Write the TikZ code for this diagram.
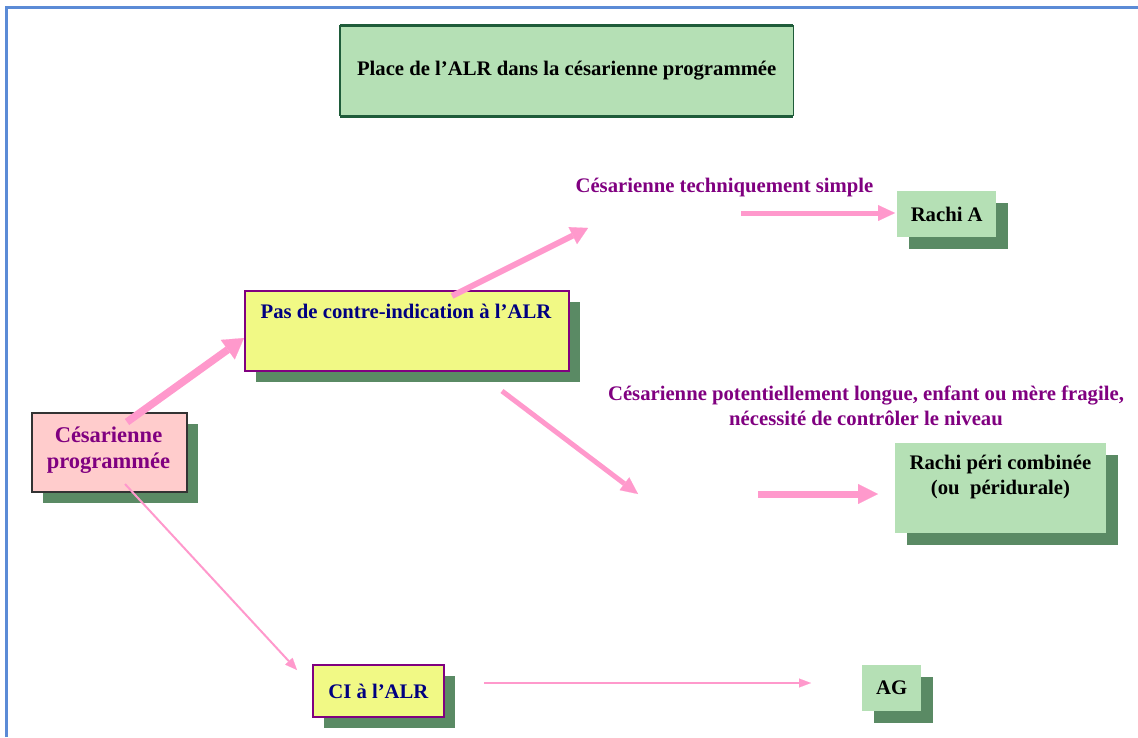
\documentclass[tikz,border=0pt]{standalone}
\usepackage{fontspec}
\setmainfont{Liberation Serif}
\usetikzlibrary{arrows.meta,shadows}
\definecolor{frameblue}{HTML}{5B8BD6}
\definecolor{boxgreen}{HTML}{B5E0B5}
\definecolor{shadowgreen}{HTML}{5A8A64}
\definecolor{titleborder}{HTML}{1F5C3A}
\definecolor{boxpink}{HTML}{FFCCCC}
\definecolor{boxyellow}{HTML}{F1F985}
\definecolor{txtpurple}{HTML}{800080}
\definecolor{txtnavy}{HTML}{000080}
\definecolor{arrowpink}{HTML}{FF99CC}
\definecolor{darkborder}{HTML}{333333}
\begin{document}
\begin{tikzpicture}[x=1pt,y=-1pt,
  shadowbox/.style={rectangle, inner sep=0pt, anchor=north west,
    drop shadow={shadow xshift=11.5pt,shadow yshift=-11.5pt,fill=shadowgreen,opacity=1}},
  greenbox/.style={shadowbox, fill=boxgreen},
  yellowbox/.style={shadowbox, fill=boxyellow, draw=txtpurple, line width=1.8pt},
  pinkbox/.style={shadowbox, fill=boxpink, draw=darkborder, line width=1.8pt},
  txt/.style={inner sep=0pt, align=center, font=\bfseries\fontsize{20.7}{25}\selectfont},
  parr/.style={draw=arrowpink, line width=#1},
]
\useasboundingbox (0,0) rectangle (1138,737);
% frame
\draw[frameblue, line width=3pt] (6.5,737) -- (6.5,7.5) -- (1138,7.5);

% title
\node[rectangle, anchor=north west, inner sep=0pt, minimum width=453pt, minimum height=91pt, fill=boxgreen] (title) at (340,25) {};
\draw[titleborder, line width=1.2pt] (title.north west) -- (title.south west) (title.north east) -- (title.south east);
\draw[titleborder, line width=3pt] (title.north west) -- (title.north east) (title.south west) -- (title.south east);
\node[txt, text=black] (titleT) at (title.center) {Place de l’ALR dans la césarienne programmée};

% boxes
\node[pinkbox, minimum width=155pt, minimum height=79pt] (ces) at (31,412) {};
\node[txt, text=txtpurple, font=\bfseries\fontsize{22.5}{26}\selectfont] (cesT) at (108.5,450) {Césarienne\\programmée};

\node[yellowbox, minimum width=324pt, minimum height=80pt] (pas) at (244,290) {};
\node[txt, text=txtnavy] (pasT) at (406,311) {Pas de contre-indication à l’ALR};

\node[yellowbox, minimum width=131pt, minimum height=52pt] (ci) at (312,664) {};
\node[txt, text=txtnavy] (ciT) at (ci.center) {CI à l’ALR};

\node[greenbox, minimum width=99pt, minimum height=46pt] (rachiA) at (897,191) {};
\node[txt, text=black] (rachiAT) at (rachiA.center) {Rachi A};

\node[greenbox, minimum width=211pt, minimum height=90pt] (rpc) at (895,443) {};
\node[txt, text=black] (rpcT) at (1000.5,477) {Rachi péri combinée\\(ou\ \ péridurale)};

\node[greenbox, minimum width=59pt, minimum height=46pt] (ag) at (862,665) {};
\node[txt, text=black] (agT) at (ag.center) {AG};

% labels
\node[txt, text=txtpurple] (lab1) at (724.5,188) {Césarienne techniquement simple};
\node[txt, text=txtpurple] (lab2) at (866,406) {Césarienne potentiellement longue, enfant ou mère fragile,\\nécessité de contrôler le niveau};

% coordinates for free ends
\coordinate (a1s) at (127,422);
\coordinate (a1e) at (244,338);
\coordinate (a2s) at (452,296);
\coordinate (a2e) at (588,228);
\coordinate (a3s) at (741,213);
\coordinate (a3e) at (895,213);
\coordinate (a4s) at (502,391);
\coordinate (a4e) at (638,494);
\coordinate (a5s) at (758,494);
\coordinate (a5e) at (878,494);
\coordinate (a6s) at (125,484);
\coordinate (a6e) at (297,670);
\coordinate (a7s) at (484,683);
\coordinate (a7e) at (811,683);

% arrows
\draw[parr=7.5pt, -{Triangle[length=20pt,width=24pt,line width=0.1pt]}] (a1s) -- (a1e);
\draw[parr=6pt, -{Triangle[length=17pt,width=19pt,line width=0.1pt]}] (a2s) -- (a2e);
\draw[parr=5pt, -{Triangle[length=17pt,width=16pt,line width=0.1pt]}] (a3s) -- (a3e);
\draw[parr=5pt, -{Triangle[length=17pt,width=16pt,line width=0.1pt]}] (a4s) -- (a4e);
\draw[parr=7pt, -{Triangle[length=20pt,width=20pt,line width=0.1pt]}] (a5s) -- (a5e);
\draw[parr=2pt, -{Triangle[length=12pt,width=10pt,line width=0.1pt]}] (a6s) -- (a6e);
\draw[parr=1.8pt, -{Triangle[length=12pt,width=9pt,line width=0.1pt]}] (a7s) -- (a7e);
\end{tikzpicture}
\end{document}
